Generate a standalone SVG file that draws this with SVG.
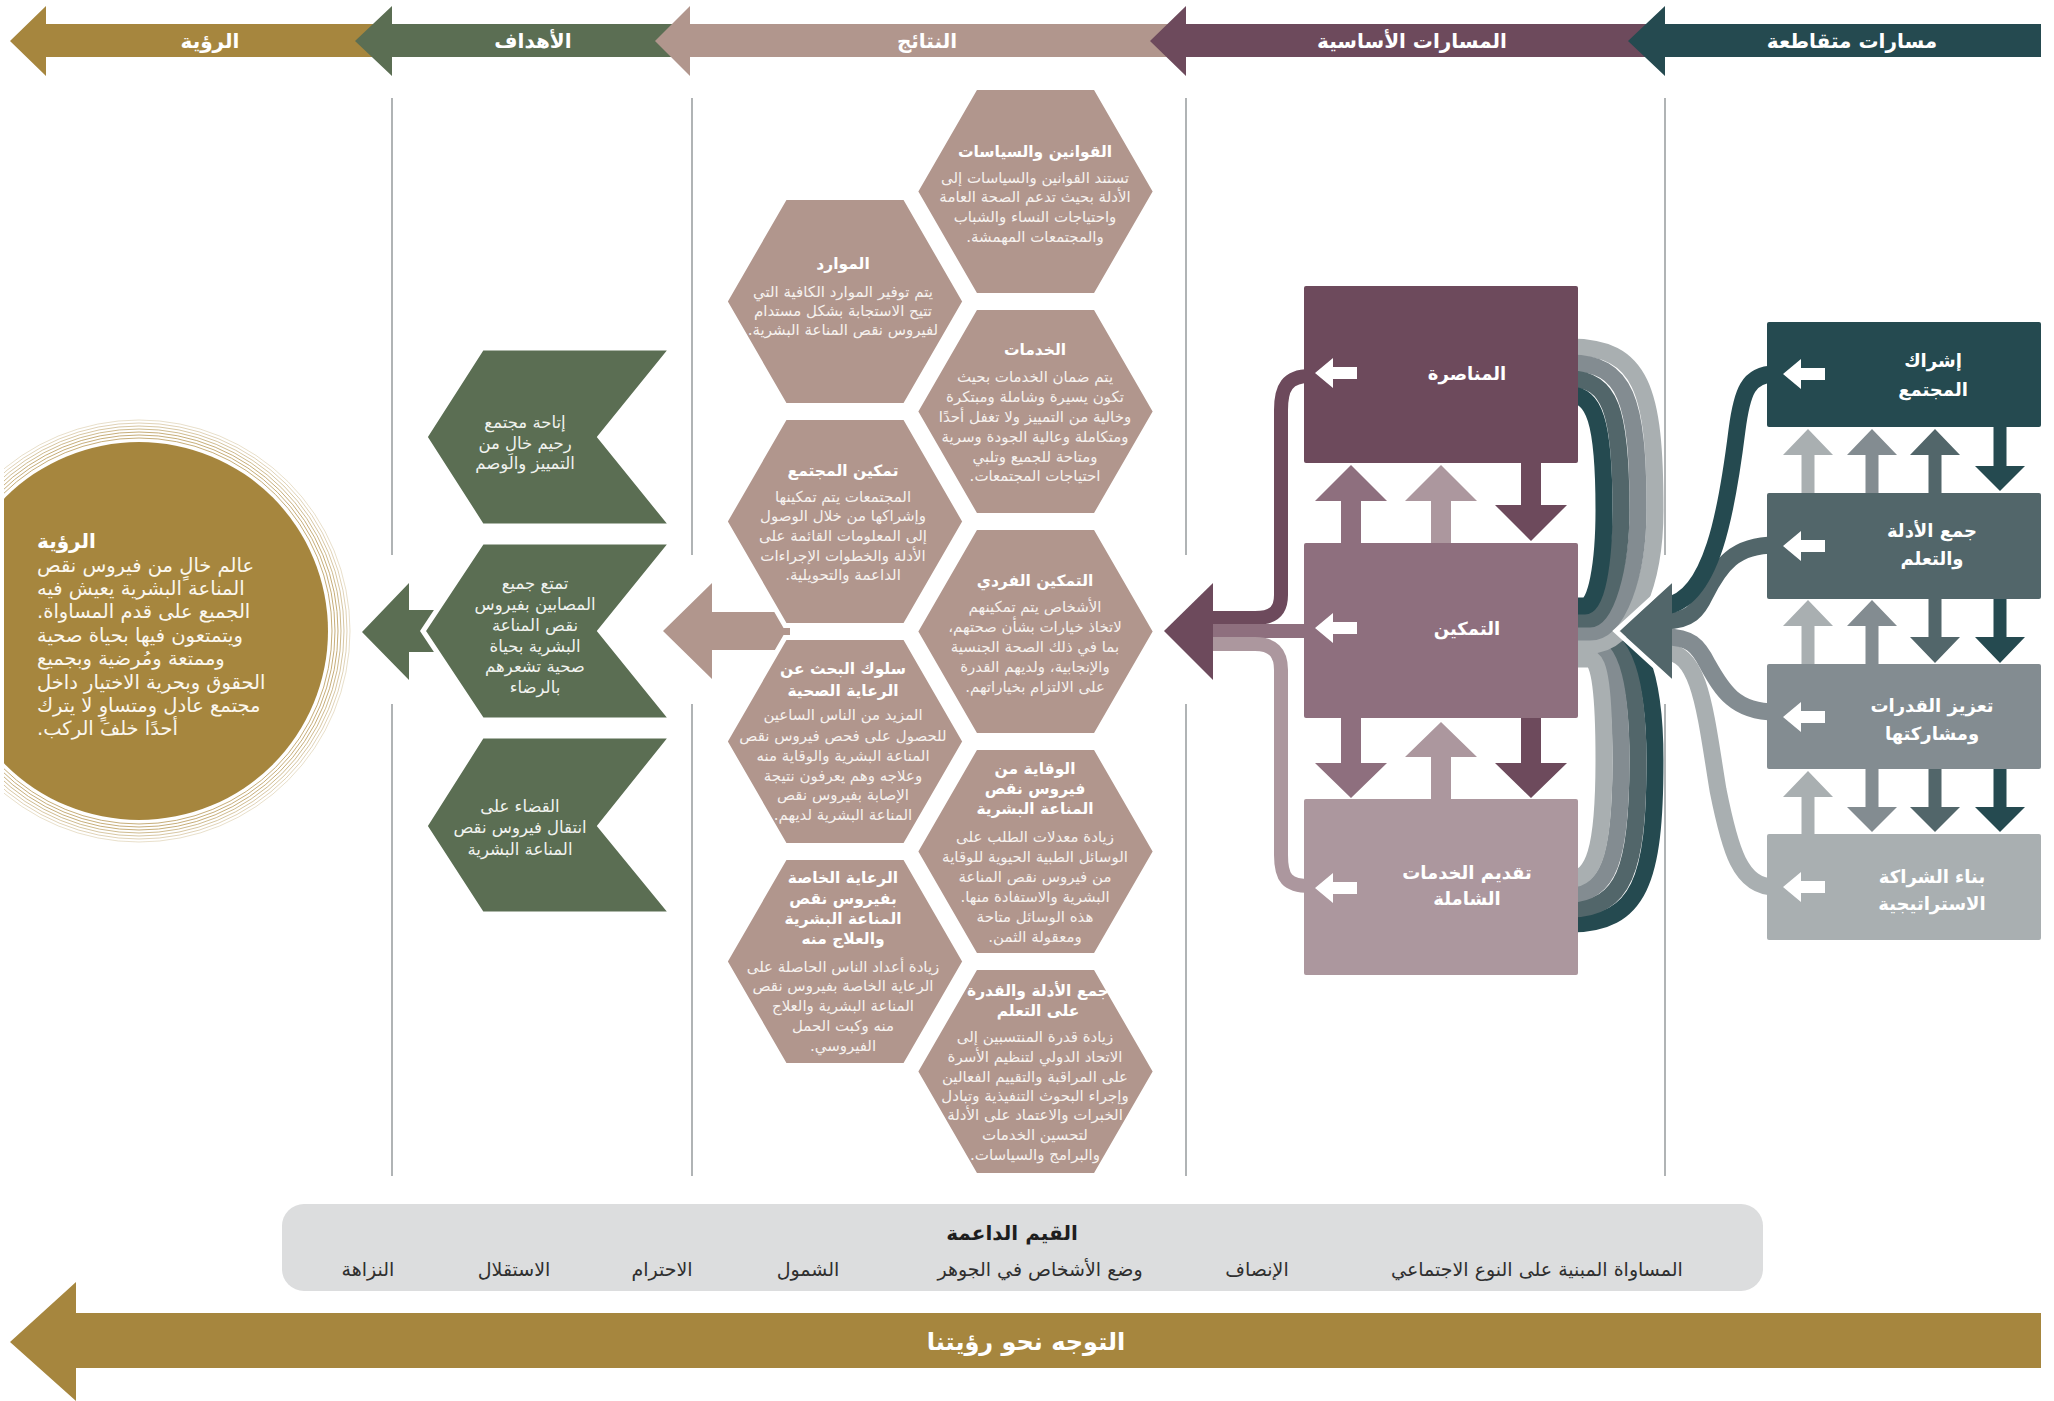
<svg xmlns="http://www.w3.org/2000/svg" xmlns:xlink="http://www.w3.org/1999/xlink" width="2054" height="1401" viewBox="0 0 2054 1401">
<style>
text{font-family:"DejaVu Sans",sans-serif;direction:rtl}
.hd{font-size:20px;font-weight:bold;fill:#fff;text-anchor:middle}
.ht{font-size:15.5px;font-weight:bold;fill:#fff;text-anchor:middle}
.hb{font-size:15px;fill:#F6F1EE;text-anchor:middle}
.gt{font-size:16.5px;fill:#F1F3EF;text-anchor:middle}
.bt{font-size:18px;font-weight:bold;fill:#fff;text-anchor:middle}
.vt{font-size:19.5px;fill:#FBF7EE;text-anchor:end}
.vh{font-size:20px;font-weight:bold;fill:#fff;text-anchor:end}
.val{font-size:19px;fill:#2F2F2F;text-anchor:middle}
.valh{font-size:20px;font-weight:bold;fill:#1E1E1E;text-anchor:middle}
.big{font-size:24px;font-weight:bold;fill:#fff;text-anchor:middle}
.sep{stroke:#8F9496;stroke-width:1.4;fill:none}
.band{fill:none;stroke-width:14}
.sw{fill:none;stroke-width:17}
.ring{fill:none;stroke:#BFA46A;stroke-width:0.9}
.hex{stroke:#fff;stroke-width:5}
.goal{fill:#5B6E53;stroke:#fff;stroke-width:5;stroke-linejoin:miter}
</style>
<defs>
<polygon id="hex" points="-120,0 -60,-104 60,-104 120,0 60,104 -60,104"/>
<path id="warr" d="M0,0 L18,-15 L18,-6 L42,-6 L42,6 L18,6 L18,15 Z" fill="#fff"/>
<clipPath id="lc"><rect x="4" y="0" width="2050" height="1401"/></clipPath>
</defs>
<rect width="2054" height="1401" fill="#fff"/>

<!-- header arrows -->
<g id="header">
<polygon points="10,41 46,6 46,24 380,24 380,57 46,57 46,76" fill="#A6863E"/>
<polygon points="355,41 392,6 392,24 680,24 680,57 392,57 392,76" fill="#5B6E53"/>
<polygon points="655,41 690,6 690,24 1170,24 1170,57 690,57 690,76" fill="#B1968D"/>
<polygon points="1150,41 1186,6 1186,24 1650,24 1650,57 1186,57 1186,76" fill="#6D4A5C"/>
<polygon points="1628,41 1665,6 1665,24 2041,24 2041,57 1665,57 1665,76" fill="#254A50"/>
<text class="hd" x="210" y="48">الرؤية</text>
<text class="hd" x="533" y="48">الأهداف</text>
<text class="hd" x="927" y="48">النتائج</text>
<text class="hd" x="1412" y="48">المسارات الأساسية</text>
<text class="hd" x="1852" y="48">مسارات متقاطعة</text>
</g>

<!-- separators -->
<g id="separators">
<path class="sep" d="M392,98 V555 M392,704 V1176 M692,98 V555 M692,704 V1176 M1186,98 V555 M1186,704 V1176 M1665,98 V555 M1665,704 V1176"/>
</g>

<!-- vision -->
<g id="vision" clip-path="url(#lc)">
<circle class="ring" cx="139" cy="631" r="193"/>
<circle class="ring" cx="139" cy="631" r="196"/>
<circle class="ring" cx="139" cy="631" r="199"/>
<circle class="ring" cx="139" cy="631" r="202" opacity="0.85"/>
<circle class="ring" cx="139" cy="631" r="205" opacity="0.7"/>
<circle class="ring" cx="139" cy="631" r="208" opacity="0.55"/>
<circle class="ring" cx="139" cy="631" r="211" opacity="0.4"/>
<circle cx="139" cy="631" r="189" fill="#A6863E"/>
<text class="vh" x="37" y="548">الرؤية</text>
<text class="vt" x="37" y="572">عالم خالٍ من فيروس نقص</text>
<text class="vt" x="37" y="595">المناعة البشرية يعيش فيه</text>
<text class="vt" x="37" y="618">الجميع على قدم المساواة.</text>
<text class="vt" x="37" y="642">ويتمتعون فيها بحياة صحية</text>
<text class="vt" x="37" y="665">وممتعة ومُرضية وبجميع</text>
<text class="vt" x="37" y="689">الحقوق وبحرية الاختيار داخل</text>
<text class="vt" x="37" y="712">مجتمع عادل ومتساوٍ لا يترك</text>
<text class="vt" x="37" y="735">أحدًا خلفَ الركب.</text>
</g>

<!-- connectors -->
<g id="connectors">
<!-- green arrow into vision -->
<polygon points="362,632 409,583 409,610 436,610 436,652 409,652 409,680" fill="#5B6E53"/>
<!-- pink arrow outcomes->goals -->
<polygon points="663,631 712,583 712,612 790,612 790,650 712,650 712,679" fill="#B1968D"/>
<!-- middle left bands -->
<path class="band" stroke="#6D4A5C" d="M1310,376 C1287,376 1281,388 1281,410 L1281,595 C1281,612 1272,618 1255,618 L1208,618"/>
<path class="band" stroke="#8E6F7E" d="M1310,631 L1208,631"/>
<path class="band" stroke="#AC979E" d="M1208,644 L1255,644 C1272,644 1281,652 1281,670 L1281,855 C1281,878 1287,886 1310,886"/>
<polygon points="1164,631 1213,583 1213,680" fill="#6D4A5C"/>
<!-- lower swoosh -->
<path class="sw" stroke="#254A50" d="M1570,620 L1590,620 C1640,620 1655,680 1655,760 C1655,880 1640,924 1570,924"/>
<path class="sw" stroke="#52666A" d="M1570,633 L1590,633 C1626,633 1638,685 1638,760 C1638,870 1624,909 1570,909"/>
<path class="sw" stroke="#838C91" d="M1570,646 L1590,646 C1612,646 1621,690 1621,760 C1621,860 1608,894 1570,894"/>
<path class="sw" stroke="#A9AFB1" d="M1570,659 L1590,659 C1600,659 1604,695 1604,760 C1604,850 1594,879 1570,879"/>
<!-- upper swoosh -->
<path class="sw" stroke="#A9AFB1" d="M1570,347 C1642,347 1655,390 1655,510 C1655,580 1632,645 1590,645 L1570,645"/>
<path class="sw" stroke="#838C91" d="M1570,363 C1626,363 1638,400 1638,510 C1638,575 1618,632 1590,632 L1570,632"/>
<path class="sw" stroke="#52666A" d="M1570,379 C1610,379 1621,410 1621,510 C1621,570 1605,619 1590,619 L1570,619"/>
<path class="sw" stroke="#254A50" d="M1570,395 C1594,395 1604,420 1604,510 C1604,565 1596,606 1585,606 L1570,606"/>
<!-- right bands -->
<path class="sw" stroke-width="15" stroke="#A9AFB1" d="M1775,887 C1740,887 1730,850 1718,790 C1705,710 1700,652 1665,652"/>
<path class="sw" stroke-width="15" stroke="#838C91" d="M1775,712 C1735,712 1722,690 1708,665 C1698,645 1690,637 1665,637"/>
<path class="sw" stroke-width="15" stroke="#52666A" d="M1775,545 C1735,545 1720,565 1705,595 C1698,610 1690,621 1665,621"/>
<path class="sw" stroke-width="15" stroke="#254A50" d="M1775,374 C1748,374 1742,392 1737,430 C1727,510 1712,600 1665,606"/>
<!-- cross-cutting arrowhead -->
<polygon points="1620,631 1672,582 1672,680" fill="#52666A"/>
<polyline points="1674,578 1616,631 1674,684" fill="none" stroke="#fff" stroke-width="5"/>
<!-- middle inter-box arrows -->
<path fill="#8E6F7E" d="M1351,465 L1387,501 L1361,501 L1361,543 L1341,543 L1341,501 L1315,501 Z"/>
<path fill="#AC979E" d="M1441,465 L1477,501 L1451,501 L1451,543 L1431,543 L1431,501 L1405,501 Z"/>
<path fill="#6D4A5C" d="M1521,463 L1541,463 L1541,505 L1567,505 L1531,541 L1495,505 L1521,505 Z"/>
<path fill="#8E6F7E" d="M1341,718 L1361,718 L1361,763 L1387,763 L1351,798 L1315,763 L1341,763 Z"/>
<path fill="#AC979E" d="M1441,722 L1477,757 L1451,757 L1451,799 L1431,799 L1431,757 L1405,757 Z"/>
<path fill="#6D4A5C" d="M1521,718 L1541,718 L1541,763 L1567,763 L1531,798 L1495,763 L1521,763 Z"/>
<!-- right inter-box arrows -->
<path fill="#A9AFB1" d="M1808,429 L1833,455 L1814.5,455 L1814.5,493 L1801.5,493 L1801.5,455 L1783,455 Z"/>
<path fill="#838C91" d="M1872,429 L1897,455 L1878.5,455 L1878.5,493 L1865.5,493 L1865.5,455 L1847,455 Z"/>
<path fill="#52666A" d="M1935,429 L1960,455 L1941.5,455 L1941.5,493 L1928.5,493 L1928.5,455 L1910,455 Z"/>
<path fill="#254A50" d="M1993.5,427 L2006.5,427 L2006.5,466 L2025,466 L2000,491 L1975,466 L1993.5,466 Z"/>
<path fill="#A9AFB1" d="M1808,600 L1833,626 L1814.5,626 L1814.5,664 L1801.5,664 L1801.5,626 L1783,626 Z"/>
<path fill="#838C91" d="M1872,600 L1897,626 L1878.5,626 L1878.5,664 L1865.5,664 L1865.5,626 L1847,626 Z"/>
<path fill="#52666A" d="M1928.5,599 L1941.5,599 L1941.5,637 L1960,637 L1935,663 L1910,637 L1928.5,637 Z"/>
<path fill="#254A50" d="M1993.5,599 L2006.5,599 L2006.5,637 L2025,637 L2000,663 L1975,637 L1993.5,637 Z"/>
<path fill="#A9AFB1" d="M1808,771 L1833,797 L1814.5,797 L1814.5,834 L1801.5,834 L1801.5,797 L1783,797 Z"/>
<path fill="#838C91" d="M1865.5,769 L1878.5,769 L1878.5,807 L1897,807 L1872,832 L1847,807 L1865.5,807 Z"/>
<path fill="#52666A" d="M1928.5,769 L1941.5,769 L1941.5,807 L1960,807 L1935,832 L1910,807 L1928.5,807 Z"/>
<path fill="#254A50" d="M1993.5,769 L2006.5,769 L2006.5,807 L2025,807 L2000,832 L1975,807 L1993.5,807 Z"/>
</g>

<!-- goals -->
<g id="goal1">
<polygon class="goal" points="482,348 672,348 600,437 672,526 482,526 425,437"/>
<text class="gt" x="525" y="428">إتاحة مجتمع</text>
<text class="gt" x="525" y="449">رحيم خالِ من</text>
<text class="gt" x="525" y="469">التمييز والوصم</text>
</g>
<g id="goal2">
<polygon class="goal" points="482,542 672,542 600,631 672,720 482,720 423,631"/>
<text class="gt" x="535" y="589">تمتع جميع</text>
<text class="gt" x="535" y="610">المصابين بفيروس</text>
<text class="gt" x="535" y="631">نقص المناعة</text>
<text class="gt" x="535" y="652">البشرية بحياة</text>
<text class="gt" x="535" y="672">صحية تشعرهم</text>
<text class="gt" x="535" y="693">بالرضاء</text>
</g>
<g id="goal3">
<polygon class="goal" points="482,736 672,736 600,826 672,914 482,914 425,826"/>
<text class="gt" x="520" y="812">القضاء على</text>
<text class="gt" x="520" y="833">انتقال فيروس نقص</text>
<text class="gt" x="520" y="855">المناعة البشرية</text>
</g>

<!-- outcomes hexagons -->
<g id="hexA">
<use href="#hex" x="1035.5" y="191.5" fill="#B1968D" class="hex"/>
<text class="ht" x="1035" y="157">القوانين والسياسات</text>
<text class="hb" x="1035" y="183">تستند القوانين والسياسات إلى</text>
<text class="hb" x="1035" y="202">الأدلة بحيث تدعم الصحة العامة</text>
<text class="hb" x="1035" y="222">واحتياجات النساء والشباب</text>
<text class="hb" x="1035" y="242">والمجتمعات المهمشة.</text>
</g>
<g id="hexB">
<use href="#hex" x="845" y="301.5" fill="#B1968D" class="hex"/>
<text class="ht" x="843" y="269">الموارد</text>
<text class="hb" x="843" y="297">يتم توفير الموارد الكافية التي</text>
<text class="hb" x="843" y="316">تتيح الاستجابة بشكل مستدام</text>
<text class="hb" x="843" y="335">لفيروس نقص المناعة البشرية.</text>
</g>
<g id="hexC">
<use href="#hex" x="1035.5" y="411.5" fill="#B1968D" class="hex"/>
<text class="ht" x="1035" y="355">الخدمات</text>
<text class="hb" x="1035" y="382">يتم ضمان الخدمات بحيث</text>
<text class="hb" x="1035" y="402">تكون يسيرة وشاملة ومبتكرة</text>
<text class="hb" x="1035" y="422">وخالية من التمييز ولا تغفل أحدًا</text>
<text class="hb" x="1035" y="442">ومتكاملة وعالية الجودة وسرية</text>
<text class="hb" x="1035" y="462">ومتاحة للجميع وتلبي</text>
<text class="hb" x="1035" y="481">احتياجات المجتمعات.</text>
</g>
<g id="hexD">
<use href="#hex" x="845" y="521.5" fill="#B1968D" class="hex"/>
<text class="ht" x="843" y="476">تمكين المجتمع</text>
<text class="hb" x="843" y="502">المجتمعات يتم تمكينها</text>
<text class="hb" x="843" y="521">وإشراكها من خلال الوصول</text>
<text class="hb" x="843" y="541">إلى المعلومات القائمة على</text>
<text class="hb" x="843" y="561">الأدلة والخطوات الإجراءات</text>
<text class="hb" x="843" y="580">الداعمة والتحويلية.</text>
</g>
<g id="hexE">
<use href="#hex" x="1035.5" y="631.5" fill="#B1968D" class="hex"/>
<text class="ht" x="1035" y="586">التمكين الفردي</text>
<text class="hb" x="1035" y="612">الأشخاص يتم تمكينهم</text>
<text class="hb" x="1035" y="632">لاتخاذ خيارات بشأن صحتهم،</text>
<text class="hb" x="1035" y="652">بما في ذلك الصحة الجنسية</text>
<text class="hb" x="1035" y="672">والإنجابية، ولديهم القدرة</text>
<text class="hb" x="1035" y="692">على الالتزام بخياراتهم.</text>
</g>
<g id="hexF">
<use href="#hex" x="845" y="741.5" fill="#B1968D" class="hex"/>
<text class="ht" x="843" y="674">سلوك البحث عن</text>
<text class="ht" x="843" y="696">الرعاية الصحية</text>
<text class="hb" x="843" y="720">المزيد من الناس الساعين</text>
<text class="hb" x="843" y="741">للحصول على فحص فيروس نقص</text>
<text class="hb" x="843" y="761">المناعة البشرية والوقاية منه</text>
<text class="hb" x="843" y="781">وعلاجه وهم يعرفون نتيجة</text>
<text class="hb" x="843" y="800">الإصابة بفيروس نقص</text>
<text class="hb" x="843" y="820">المناعة البشرية لديهم.</text>
</g>
<g id="hexG">
<use href="#hex" x="1035.5" y="851.5" fill="#B1968D" class="hex"/>
<text class="ht" x="1035" y="774">الوقاية من</text>
<text class="ht" x="1035" y="794">فيروس نقص</text>
<text class="ht" x="1035" y="814">المناعة البشرية</text>
<text class="hb" x="1035" y="842">زيادة معدلات الطلب على</text>
<text class="hb" x="1035" y="862">الوسائل الطبية الحيوية للوقاية</text>
<text class="hb" x="1035" y="882">من فيروس نقص المناعة</text>
<text class="hb" x="1035" y="902">البشرية والاستفادة منها.</text>
<text class="hb" x="1035" y="922">هذه الوسائل متاحة</text>
<text class="hb" x="1035" y="942">ومعقولة الثمن.</text>
</g>
<g id="hexH">
<use href="#hex" x="845" y="961.5" fill="#B1968D" class="hex"/>
<text class="ht" x="843" y="883">الرعاية الخاصة</text>
<text class="ht" x="843" y="904">بفيروس نقص</text>
<text class="ht" x="843" y="924">المناعة البشرية</text>
<text class="ht" x="843" y="944">والعلاج منه</text>
<text class="hb" x="843" y="972">زيادة أعداد الناس الحاصلة على</text>
<text class="hb" x="843" y="991">الرعاية الخاصة بفيروس نقص</text>
<text class="hb" x="843" y="1011">المناعة البشرية والعلاج</text>
<text class="hb" x="843" y="1031">منه وكبت الحمل</text>
<text class="hb" x="843" y="1051">الفيروسي.</text>
</g>
<g id="hexI">
<use href="#hex" x="1035.5" y="1071.5" fill="#B1968D" class="hex"/>
<text class="ht" x="1038" y="996">جمع الأدلة والقدرة</text>
<text class="ht" x="1038" y="1016">على التعلم</text>
<text class="hb" x="1035" y="1042">زيادة قدرة المنتسبين إلى</text>
<text class="hb" x="1035" y="1062">الاتحاد الدولي لتنظيم الأسرة</text>
<text class="hb" x="1035" y="1082">على المراقبة والتقييم الفعالين</text>
<text class="hb" x="1035" y="1101">وإجراء البحوث التنفيذية وتبادل</text>
<text class="hb" x="1035" y="1120">الخبرات والاعتماد على الأدلة</text>
<text class="hb" x="1035" y="1140">لتحسين الخدمات</text>
<text class="hb" x="1035" y="1160">والبرامج والسياسات.</text>
</g>

<!-- main pathways -->
<g id="advocacy">
<rect x="1304" y="286" width="274" height="177" rx="2" fill="#6D4A5C"/>
<use href="#warr" x="1315" y="373"/>
<text class="bt" x="1467" y="380">المناصرة</text>
</g>
<g id="empowerment">
<rect x="1304" y="543" width="274" height="175" rx="2" fill="#8E6F7E"/>
<use href="#warr" x="1315" y="628"/>
<text class="bt" x="1467" y="635">التمكين</text>
</g>
<g id="services">
<rect x="1304" y="799" width="274" height="176" rx="2" fill="#AC979E"/>
<use href="#warr" x="1315" y="888"/>
<text class="bt" x="1467" y="879">تقديم الخدمات</text>
<text class="bt" x="1467" y="905">الشاملة</text>
</g>

<!-- cross-cutting -->
<g id="community">
<rect x="1767" y="322" width="274" height="105" rx="2" fill="#254A50"/>
<use href="#warr" x="1783" y="374"/>
<text class="bt" x="1933" y="367">إشراك</text>
<text class="bt" x="1933" y="396">المجتمع</text>
</g>
<g id="evidence">
<rect x="1767" y="493" width="274" height="106" rx="2" fill="#52666A"/>
<use href="#warr" x="1783" y="546"/>
<text class="bt" x="1932" y="537">جمع الأدلة</text>
<text class="bt" x="1932" y="565">والتعلم</text>
</g>
<g id="capacity">
<rect x="1767" y="664" width="274" height="105" rx="2" fill="#838C91"/>
<use href="#warr" x="1783" y="717"/>
<text class="bt" x="1932" y="712">تعزيز القدرات</text>
<text class="bt" x="1932" y="740">ومشاركتها</text>
</g>
<g id="partnership">
<rect x="1767" y="834" width="274" height="106" rx="2" fill="#A9AFB1"/>
<use href="#warr" x="1783" y="887"/>
<text class="bt" x="1932" y="883">بناء الشراكة</text>
<text class="bt" x="1932" y="910">الاستراتيجية</text>
</g>

<!-- values -->
<g id="values">
<rect x="282" y="1204" width="1481" height="87" rx="22" fill="#DCDDDE"/>
<text class="valh" x="1012" y="1240">القيم الداعمة</text>
<text class="val" x="1537" y="1276">المساواة المبنية على النوع الاجتماعي</text>
<text class="val" x="1257" y="1276">الإنصاف</text>
<text class="val" x="1040" y="1276">وضع الأشخاص في الجوهر</text>
<text class="val" x="808" y="1276">الشمول</text>
<text class="val" x="662" y="1276">الاحترام</text>
<text class="val" x="514" y="1276">الاستقلال</text>
<text class="val" x="368" y="1276">النزاهة</text>
</g>

<!-- bottom arrow -->
<g id="direction">
<polygon points="10,1342 76,1282 76,1313 2041,1313 2041,1368 76,1368 76,1401" fill="#A6863E"/>
<text class="big" x="1026" y="1350">التوجه نحو رؤيتنا</text>
</g>
</svg>
